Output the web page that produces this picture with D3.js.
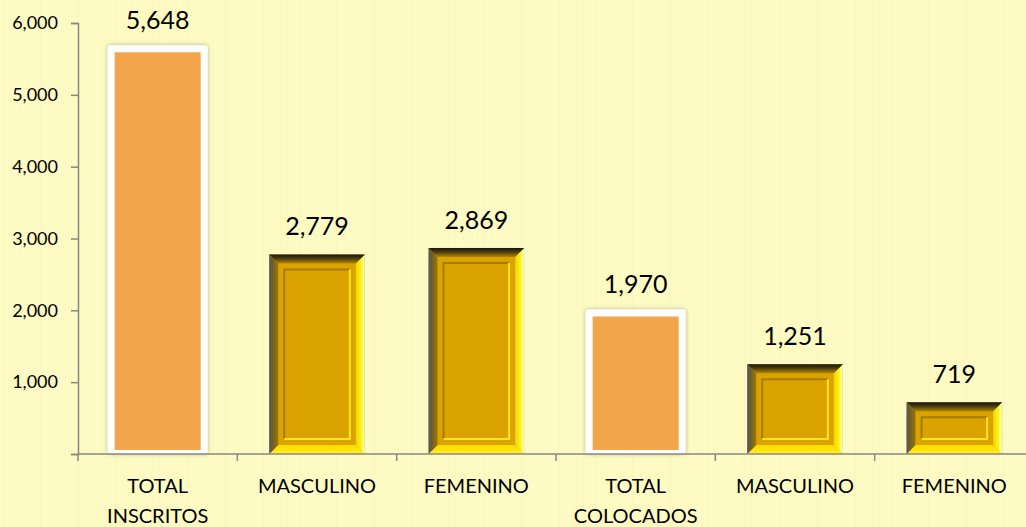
<!DOCTYPE html>
<html>
<head>
<meta charset="utf-8">
<script src="https://cdn.jsdelivr.net/npm/d3@7"></script>
<style>
    html, body { margin: 0; padding: 0; background: #fdfbc3; }
    svg { display: block; }
</style>
</head>
<body>
<div class="chart"></div>
<script>
(function () {
    "use strict";

    var categories = ['TOTAL|INSCRITOS', 'MASCULINO', 'FEMENINO', 'TOTAL|COLOCADOS', 'MASCULINO ', 'FEMENINO '];
    var values = [5648, 2779, 2869, 1970, 1251, 719];
    var kinds = ['total', 'sub', 'sub', 'total', 'sub', 'sub'];
    var yTicks = [0, 1000, 2000, 3000, 4000, 5000, 6000];

    var width = 1026, height = 527;
    var margin = { top: 23, left: 78, bottom: 73, right: -8 };

    var svg = d3.select('.chart').append('svg')
        .attr('width', width)
        .attr('height', height);

    var defs = svg.append('defs');

    // faint vertical stripes of the slide background
    var pat = defs.append('pattern')
        .attr('id', 'bg')
        .attr('width', 37).attr('height', 527)
        .attr('patternUnits', 'userSpaceOnUse');
    pat.append('rect').attr('width', 37).attr('height', 527).attr('fill', '#fdfbc3');
    [[3, 2, 0.05], [11, 1, 0.04], [19, 3, 0.035], [28, 1, 0.05]].forEach(function (s) {
        pat.append('rect').attr('x', s[0]).attr('width', s[1]).attr('height', 527)
            .attr('fill', '#d8d08a').attr('opacity', s[2] * 1.4);
    });
    svg.append('rect').attr('width', width).attr('height', height).attr('fill', 'url(#bg)');

    function grad(id, x2, y2, stops) {
        var g = defs.append('linearGradient').attr('id', id)
            .attr('x1', 0).attr('y1', 0).attr('x2', x2).attr('y2', y2);
        stops.forEach(function (s) {
            g.append('stop').attr('offset', s[0]).attr('stop-color', s[1]);
        });
    }
    grad('gTop', 0, 1, [[0, '#151515'], [0.45, '#4a3d10'], [1, '#b08600']]);
    grad('gLeft', 1, 0, [[0, '#4c5f7a'], [0.3, '#6b5a2a'], [1, '#9a7705']]);
    grad('gRight', 1, 0, [[0, '#f2d400'], [0.6, '#fff21a'], [0.85, '#ffff8a'], [1, '#c8f7ff']]);
    grad('gBottom', 0, 1, [[0, '#f7dc00'], [0.6, '#ffe600'], [1, '#fff060']]);

    var shadow = defs.append('filter').attr('id', 'shadow')
        .attr('x', '-20%').attr('y', '-20%').attr('width', '140%').attr('height', '140%');
    shadow.append('feDropShadow').attr('dx', 0).attr('dy', 0)
        .attr('stdDeviation', 2).attr('flood-color', '#000').attr('flood-opacity', 0.3);

    var x = d3.scaleBand()
        .domain(categories)
        .range([margin.left, width - margin.right])
        .paddingInner(0.4)
        .paddingOuter(0.2);

    var y = d3.scaleLinear()
        .domain([0, 6000])
        .range([height - margin.bottom, margin.top]);

    var fmt = d3.format(',');
    var axisColor = '#878787';

    // y axis
    var yAxis = svg.append('g')
        .attr('transform', 'translate(' + margin.left + ',0)')
        .call(d3.axisLeft(y).tickValues(yTicks).tickFormat(fmt).tickSize(7).tickPadding(13));
    yAxis.select('.domain').attr('stroke', axisColor).attr('stroke-width', 1.5);
    yAxis.selectAll('.tick line').attr('stroke', axisColor).attr('stroke-width', 1.5);
    yAxis.selectAll('.tick text')
        .attr('fill', '#000')
        .style('font-family', 'Lato, sans-serif')
        .style('font-size', '18px')
        .text(function (d) { return d === 0 ? '' : fmt(d); });

    var y0 = y(0);
    var step = x.step();

    var bars = svg.append('g');

    categories.forEach(function (c, i) {
        var x0 = x(c), bw = x.bandwidth(), x1 = x0 + bw, cx = x0 + bw / 2;
        var yt = y(values[i]);
        var g = bars.append('g');

        if (kinds[i] === 'total') {
            g.append('rect')
                .attr('x', cx - 50).attr('y', yt - 3)
                .attr('width', 100).attr('height', y0 - yt + 3)
                .attr('rx', 3)
                .attr('fill', '#ffffff')
                .attr('filter', 'url(#shadow)');
            g.append('rect')
                .attr('x', cx - 43).attr('y', yt + 4)
                .attr('width', 86).attr('height', y0 - yt - 8)
                .attr('fill', '#f2a54a');
        } else {
            var b = 9;
            var pts = function (a) { return a.map(function (p) { return p.join(','); }).join(' '); };
            g.append('rect')
                .attr('x', x0).attr('y', yt)
                .attr('width', bw).attr('height', y0 - yt)
                .attr('fill', '#daa300');
            g.append('polygon').attr('fill', 'url(#gBottom)')
                .attr('points', pts([[x0, y0], [x1, y0], [x1 - b, y0 - b], [x0 + b, y0 - b]]));
            g.append('polygon').attr('fill', 'url(#gLeft)')
                .attr('points', pts([[x0, yt], [x0 + b, yt + b], [x0 + b, y0 - b], [x0, y0]]));
            g.append('polygon').attr('fill', 'url(#gRight)')
                .attr('points', pts([[x1, yt], [x1, y0], [x1 - b, y0 - b], [x1 - b, yt + b]]));
            g.append('polygon').attr('fill', 'url(#gTop)')
                .attr('points', pts([[x0, yt], [x1, yt], [x1 - b, yt + b], [x0 + b, yt + b]]));
            // inner embossed frame
            var ins = 15;
            var ix0 = x0 + ins, ix1 = x1 - ins, iy0 = yt + ins, iy1 = y0 - ins;
            if (iy1 - iy0 < 14) { iy0 = yt + 12; iy1 = y0 - 12; }
            g.append('polyline').attr('fill', 'none').attr('stroke', '#a37d00').attr('stroke-width', 2)
                .attr('points', pts([[ix0, iy1], [ix0, iy0], [ix1, iy0]]));
            g.append('polyline').attr('fill', 'none').attr('stroke', '#ffe52a').attr('stroke-width', 2)
                .attr('points', pts([[ix1, iy0], [ix1, iy1], [ix0, iy1]]));
        }

        g.append('text')
            .attr('x', cx).attr('y', yt - 19)
            .attr('text-anchor', 'middle')
            .style('font-family', 'Lato, sans-serif')
            .style('font-size', '25px')
            .attr('fill', '#000')
            .text(fmt(values[i]));
    });

    // x axis
    var xg = svg.append('g').attr('stroke', axisColor).attr('stroke-width', 1.5);
    xg.append('line')
        .attr('x1', margin.left).attr('x2', width)
        .attr('y1', y0).attr('y2', y0);
    d3.range(categories.length + 1).forEach(function (k) {
        var xx = margin.left + k * step;
        xg.append('line').attr('x1', xx).attr('x2', xx).attr('y1', y0).attr('y2', y0 + 7);
    });

    var labels = svg.append('g');
    categories.forEach(function (c) {
        var cx = x(c) + x.bandwidth() / 2;
        var lines = c.trim().split('|');
        var t = labels.append('text')
            .attr('text-anchor', 'middle')
            .style('font-family', 'Lato, sans-serif')
            .style('font-size', '20px')
            .attr('fill', '#000');
        lines.forEach(function (l, j) {
            t.append('tspan').attr('x', cx).attr('y', 493 + j * 30).text(l);
        });
    });
})();
</script>
</body>
</html>
